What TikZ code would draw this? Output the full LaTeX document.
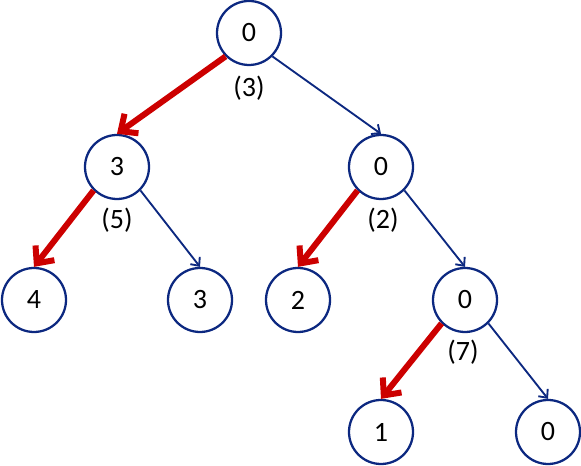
\documentclass[tikz,border=0pt]{standalone}
\usepackage{fontspec}
\setmainfont{Carlito}
\usepackage{xcolor}
\usetikzlibrary{arrows.meta}

\definecolor{treeblue}{RGB}{12,40,128}
\definecolor{pathred}{RGB}{204,0,0}

\tikzset{
    vertex/.style={circle,draw=treeblue,line width=1.7pt,inner sep=0pt,minimum size=48pt,font=\fontsize{21}{24}\selectfont},
    cost/.style={font=\fontsize{21}{24}\selectfont},
    redpath/.style={draw=pathred,line width=4.5pt,-{Straight Barb[length=10pt,width=18pt]}},
    bluepath/.style={draw=treeblue,line width=1.4pt,-{Straight Barb[length=5pt,width=9pt]}}
}

\begin{document}
\begin{tikzpicture}[x=0.75pt,y=0.75pt]
    \useasboundingbox (0,0) rectangle (581,466);

    % Nodes
    \node[vertex] (root) at (249,433) {0};
    \node[vertex] (l) at (117,299) {3};
    \node[vertex] (r) at (381,299) {0};
    \node[vertex] (ll) at (34,166) {4};
    \node[vertex] (lr) at (200,166) {3};
    \node[vertex] (rl) at (298,166) {2};
    \node[vertex] (rr) at (465,166) {0};
    \node[vertex] (rrl) at (381,34) {1};
    \node[vertex] (rrr) at (548,34) {0};

    % Costs
    \node[cost] (c1) at (249,378) {(3)};
    \node[cost] (c2) at (117,246) {(5)};
    \node[cost] (c3) at (383,246) {(2)};
    \node[cost] (c4) at (463,114) {(7)};

    % Edges
    \draw[redpath] (root.south west) -- (l.north);
    \draw[bluepath] (root.south east) -- (r.north);
    \draw[redpath] (l.south west) -- (ll.north);
    \draw[bluepath] (l.south east) -- (lr.north);
    \draw[redpath] (r.south west) -- (rl.north);
    \draw[bluepath] (r.south east) -- (rr.north);
    \draw[redpath] (rr.south west) -- (rrl.north);
    \draw[bluepath] (rr.south east) -- (rrr.north);
\end{tikzpicture}
\end{document}
